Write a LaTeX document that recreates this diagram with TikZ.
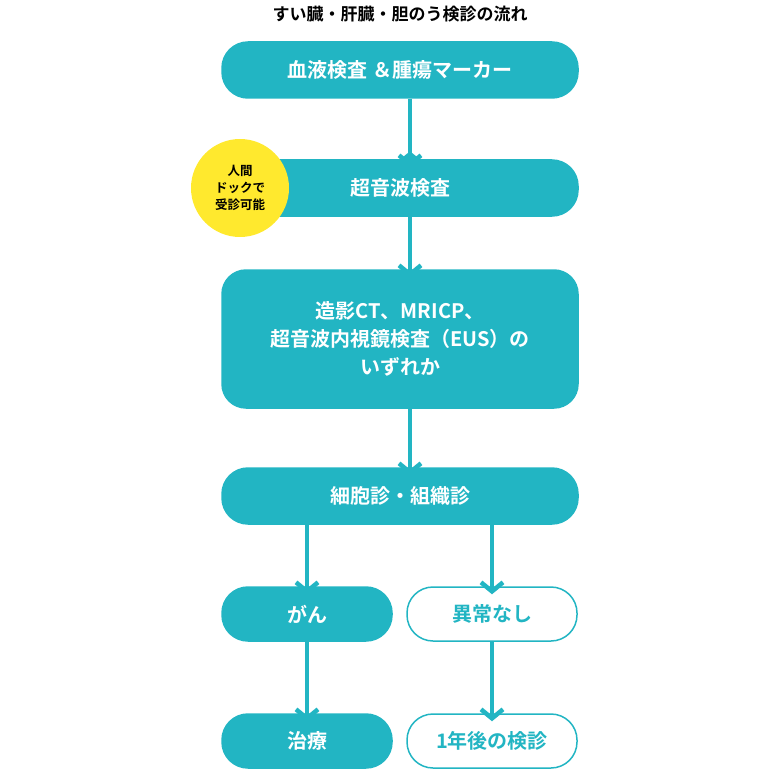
\documentclass[tikz,border=0pt]{standalone}
\usepackage{fontspec}
\setmainfont{Noto Sans CJK JP}[BoldFont={Noto Sans CJK JP Bold}]
\usetikzlibrary{arrows.meta}
\definecolor{teal}{HTML}{22B5C3}
\definecolor{yel}{HTML}{FFE92E}
\begin{document}
\begin{tikzpicture}[x=1pt,y=-1pt,
  box/.style={fill=teal,draw=teal,line width=1.5pt,rounded corners=26pt,text=white,font=\bfseries\fontsize{20}{28}\selectfont,align=center},
  wbox/.style={box,fill=white,text=teal},
  arr/.style={draw=teal,line width=4.5pt,-{Straight Barb[length=9pt,width=22pt,line width=4.5pt]}}]
\useasboundingbox (0,0) rectangle (770,770);
\node[font=\bfseries\fontsize{17}{20}\selectfont] (t) at (400,14) {すい臓・肝臓・胆のう検診の流れ};
\node[box,minimum width=356pt,minimum height=56pt] (b1) at (400,70) {血液検査 ＆腫瘍マーカー};
\node[box,minimum width=356pt,minimum height=56pt] (b2) at (400,188) {超音波検査};
\node[fill=yel,circle,minimum size=98pt,align=center,font=\bfseries\fontsize{12.5}{17}\selectfont] (y) at (240,188) {人間\\ドックで\\受診可能};
\node[box,minimum width=356pt,minimum height=138pt,rounded corners=24pt] (b3) at (400,339) {造影CT、MRICP、\\超音波内視鏡検査（EUS）の\\いずれか};
\node[box,minimum width=356pt,minimum height=56pt] (b4) at (400,496) {細胞診・組織診};
\node[box,minimum width=170pt,minimum height=54pt] (g) at (307,614) {がん};
\node[wbox,minimum width=170pt,minimum height=54pt] (n) at (492,614) {異常なし};
\node[box,minimum width=170pt,minimum height=54pt] (c) at (307,741) {治療};
\node[wbox,minimum width=170pt,minimum height=54pt] (k) at (492,741) {1年後の検診};
\draw[arr] (b1.south) ++(10,0) coordinate (a1) -- (a1|-b2.north) ++(0,-8);
\draw[arr] ([xshift=10pt]b1.south) -- ([xshift=10pt,yshift=-8pt]b2.north);
\draw[arr] ([xshift=10pt]b2.south) -- ([xshift=10pt,yshift=-8pt]b3.north);
\draw[arr] ([xshift=10pt]b3.south) -- ([xshift=10pt,yshift=-8pt]b4.north);
\draw[arr] (b4.south-|g) -- ([yshift=-8pt]g.north);
\draw[arr] (b4.south-|n) -- ([yshift=-8pt]n.north);
\draw[arr] (g.south) -- ([yshift=-8pt]c.north);
\draw[arr] (n.south) -- ([yshift=-8pt]k.north);
\end{tikzpicture}
\end{document}
